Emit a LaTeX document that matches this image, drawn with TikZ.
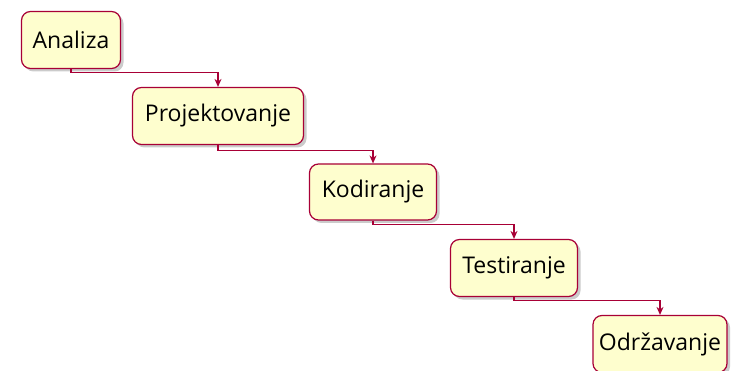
\documentclass[tikz,border=0pt]{standalone}
\usepackage{fontspec}
\setmainfont{Open Sans}
\usetikzlibrary{arrows.meta,shadows}
\definecolor{boxfill}{HTML}{FEFECE}
\definecolor{boxline}{HTML}{A80036}
\begin{document}
\begin{tikzpicture}[x=1pt,y=-1pt,
  stepbox/.style={draw=boxline, fill=boxfill, line width=1.2pt, rounded corners=9pt,
    inner sep=0pt, font=\fontsize{23}{27}\selectfont,
    drop shadow={shadow xshift=3pt, shadow yshift=-3pt, fill=black!40, opacity=0.5}},
  flow/.style={draw=boxline, line width=1.1pt, -{Stealth[length=8pt,width=7pt]}}]
\useasboundingbox (0,0) rectangle (733,371);
\fill[white] (0,0) rectangle (733,371);
\node[stepbox, minimum width=99pt, minimum height=57pt] (a) at (71,40) {Analiza};
\node[stepbox, minimum width=171pt, minimum height=57pt] (b) at (218,116) {Projektovanje};
\node[stepbox, minimum width=127pt, minimum height=56pt] (c) at (373,192) {Kodiranje};
\node[stepbox, minimum width=127pt, minimum height=57pt] (d) at (514,268) {Testiranje};
\node[stepbox, minimum width=134pt, minimum height=57pt] (e) at (660,344) {Održavanje};
\draw[flow] (a.south) -- ++(0,3) -| (b.north);
\draw[flow] (b.south) -- ++(0,5) -| (c.north);
\draw[flow] (c.south) -- ++(0,4) -| (d.north);
\draw[flow] (d.south) -- ++(0,3) -| (e.north);
\end{tikzpicture}
\end{document}
